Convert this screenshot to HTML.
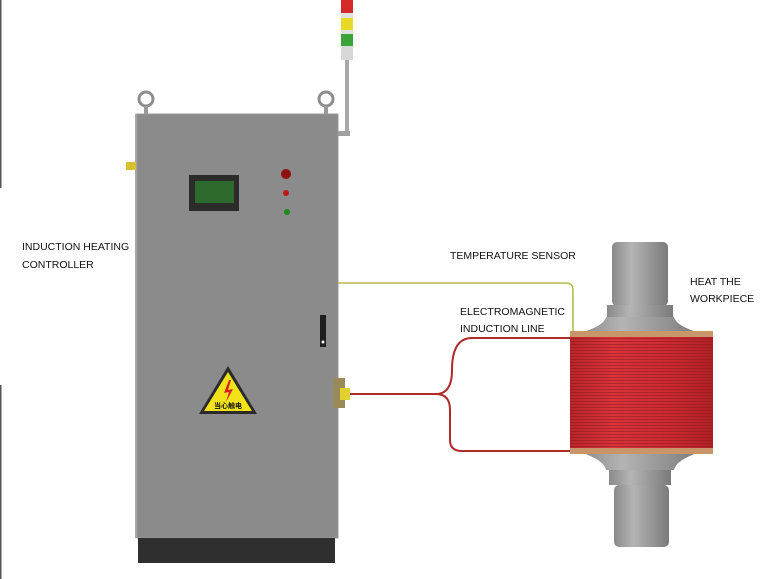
<!DOCTYPE html>
<html><head><meta charset="utf-8"><style>
html,body{margin:0;padding:0;background:#fff;width:777px;height:579px;overflow:hidden}
svg{display:block}
text{font-family:"Liberation Sans","Noto Sans CJK SC",sans-serif;font-size:10.5px;fill:#111}
</style></head><body>
<svg width="777" height="579" viewBox="0 0 777 579">
<defs>
<linearGradient id="shaft" x1="0" x2="1"><stop offset="0" stop-color="#8a8a8a"/><stop offset="0.35" stop-color="#b4b4b4"/><stop offset="1" stop-color="#7a7a7a"/></linearGradient>
<linearGradient id="coil" x1="0" x2="1"><stop offset="0" stop-color="#b8252a"/><stop offset="0.3" stop-color="#d8343a"/><stop offset="0.7" stop-color="#c92a30"/><stop offset="1" stop-color="#b02026"/></linearGradient>
<pattern id="turns" width="4" height="3" patternUnits="userSpaceOnUse"><rect width="4" height="3" fill="none"/><rect y="2" width="4" height="1" fill="#8e1a1e" opacity="0.55"/></pattern>
</defs>
<rect x="0" y="0" width="1.5" height="188" fill="#555"/>
<rect x="0" y="385" width="1.5" height="194" fill="#555"/>
<!-- beacon -->
<rect x="341" y="0" width="12" height="13" fill="#d52a2a"/>
<rect x="341" y="13" width="12" height="5" fill="#e0e0e0"/>
<rect x="341" y="18" width="12" height="12" fill="#e8d82a"/>
<rect x="341" y="30" width="12" height="4" fill="#e0e0e0"/>
<rect x="341" y="34" width="12" height="12" fill="#3aa33a"/>
<rect x="341" y="46" width="12" height="14" fill="#d8d8d8"/>
<rect x="345" y="60" width="4" height="75" fill="#a8a8a8"/>
<rect x="334" y="131" width="16" height="5" fill="#a0a0a0"/>
<!-- lifting rings -->
<circle cx="146" cy="99" r="7" fill="none" stroke="#8e8e8e" stroke-width="3"/>
<rect x="144" y="106" width="4" height="8" fill="#999"/>
<circle cx="326" cy="99" r="7" fill="none" stroke="#8e8e8e" stroke-width="3"/>
<rect x="324" y="106" width="4" height="8" fill="#999"/>
<!-- cabinet -->
<rect x="135" y="114" width="4" height="424" fill="#a8a8a8"/>
<rect x="137" y="114" width="201" height="424" fill="#8b8b8b" stroke="#9a9a9a"/>
<rect x="138" y="538" width="197" height="25" fill="#2f2f2f"/>
<rect x="126" y="162" width="10" height="8" fill="#d8c030"/>
<rect x="333" y="378" width="12" height="30" fill="#9a8a5a"/>
<rect x="340" y="388" width="10" height="12" fill="#e0d030"/>
<!-- screen -->
<rect x="189" y="175" width="50" height="36" fill="#2b2b2b"/>
<rect x="195" y="181" width="39" height="22" fill="#2e6a2e"/>
<circle cx="286" cy="174" r="5" fill="#8e1010"/>
<circle cx="286" cy="193" r="3" fill="#c01818"/>
<circle cx="287" cy="212" r="3" fill="#1a8a1a"/>
<!-- handle -->
<rect x="320" y="315" width="6" height="32" fill="#1e1e1e"/>
<circle cx="323" cy="342" r="1.5" fill="#fff"/>
<!-- warning -->
<polygon points="228,366 257,414 199,414" fill="#2a2a2a"/>
<polygon points="228,372 252,411 204,411" fill="#f2e21a"/>
<polygon points="229,380 224,393 229,392 226,402 233,389 228,390 231,380" fill="#d82020"/>
<text x="228" y="408" text-anchor="middle" style="font-size:7px;font-weight:bold">当心触电</text>
<!-- wires -->
<path d="M338,283 H566 Q573,283 573,290 V333" fill="none" stroke="#b5bc48" stroke-width="1.6"/>
<path d="M350,394 H436 Q452,394 452,370 Q452,338 472,338 H574" fill="none" stroke="#b02a2a" stroke-width="2"/>
<path d="M436,394 Q450,394 450,410 V440 Q450,451 462,451 H574" fill="none" stroke="#b02a2a" stroke-width="2"/>
<!-- workpiece -->
<rect x="612" y="242" width="56" height="64" rx="5" fill="url(#shaft)"/>
<rect x="607" y="305" width="66" height="12" fill="url(#shaft)"/>
<path d="M606,317 H674 Q676,326 700,333 H580 Q604,326 606,317Z" fill="url(#shaft)"/>
<path d="M580,452 H700 Q676,460 674,470 H606 Q604,460 580,452Z" fill="url(#shaft)"/>
<rect x="609" y="470" width="62" height="15" fill="url(#shaft)"/>
<rect x="614" y="485" width="55" height="62" rx="5" fill="url(#shaft)"/>
<rect x="570" y="331" width="143" height="7" fill="#c9956a"/>
<rect x="570" y="447" width="143" height="7" fill="#c9956a"/>
<rect x="570" y="337" width="143" height="111" fill="url(#coil)"/>
<rect x="570" y="337" width="143" height="111" fill="url(#turns)"/>
<!-- labels -->
<text x="22" y="250">INDUCTION HEATING</text>
<text x="22" y="268">CONTROLLER</text>
<text x="450" y="259">TEMPERATURE SENSOR</text>
<text x="460" y="315">ELECTROMAGNETIC</text>
<text x="460" y="332">INDUCTION LINE</text>
<text x="690" y="285">HEAT THE</text>
<text x="690" y="302">WORKPIECE</text>
</svg>
</body></html>
